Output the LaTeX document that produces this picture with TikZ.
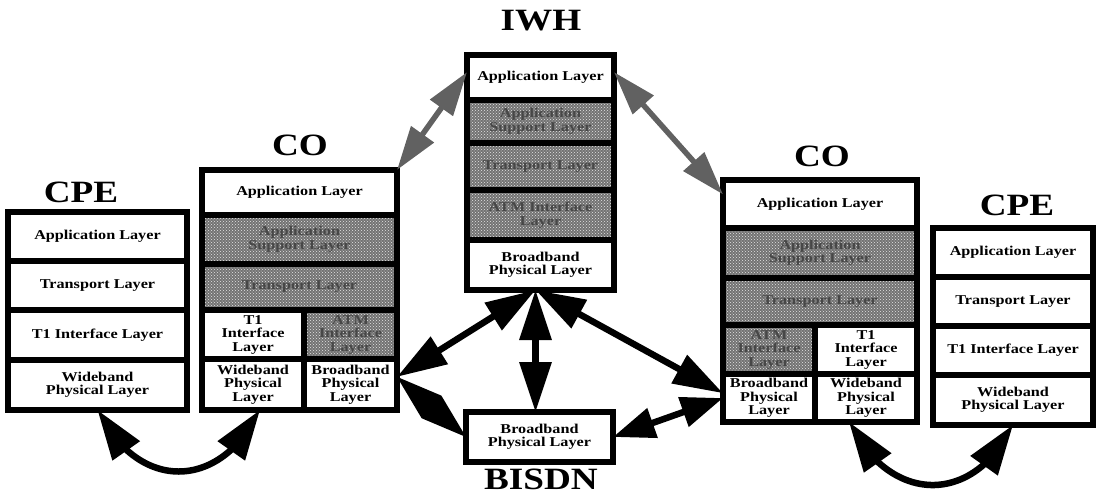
\documentclass[tikz,border=0pt]{standalone}
\usepackage{fontspec}
\setmainfont{Liberation Serif}[FakeStretch=1.2]
\usetikzlibrary{arrows.meta,patterns,calc,bending}

% a layer cell given by its corners (x1,y1) (x2,y2), y counted downwards
\newcommand\cell[7]{%
  \node[cell,#1,minimum width={(#5-#3)*1pt},minimum height={(#6-#4)*1pt}]
    (#2) at ({(#3+#5)/2},{(#4+#6)/2}) {#7};}

\tikzset{
  cell/.style={draw, line width=5.5pt, fill=white, inner sep=0pt, outer sep=0pt,
    align=center, font=\fontsize{13.5}{13.5}\selectfont\bfseries},
  shaded/.style={preaction={fill=black!55}, pattern=crosshatch dots,
    pattern color=black!10, text=black!72},
  head/.style={font=\fontsize{31}{31}\selectfont\bfseries, inner sep=0pt},
  bigarrow/.style={line width=6.5pt,
    {Triangle[length=50pt,width=31pt]}-{Triangle[length=50pt,width=31pt]}},
  shortarrow/.style={line width=6.5pt,
    {Triangle[length=42pt,width=30pt]}-{Triangle[length=42pt,width=30pt]}},
  grayarrow/.style={line width=5.5pt, draw=black!62,
    {Triangle[length=44pt,width=27pt]}-{Triangle[length=44pt,width=27pt]}},
  curvearrow/.style={line width=6.5pt,
    {Triangle[length=50pt,width=32pt]}-{Triangle[length=50pt,width=32pt]}},
}

\begin{document}
\begin{tikzpicture}[x=1pt,y=-1pt]
\useasboundingbox (0,0) rectangle (1097,496);

% --- customer premises, left
\cell{}{cpeLapp}{8}{212}{187}{261}{Application Layer}
\cell{}{cpeLtr}{8}{261}{187}{310}{Transport Layer}
\cell{}{cpeLt1}{8}{310}{187}{360}{T1 Interface Layer}
\cell{}{cpeLwb}{8}{360}{187}{410}{Wideband\\Physical Layer}
\node[head] (lblCPEl) at (81,192) {CPE};

% --- central office, left
\cell{}{coLapp}{202}{170}{397}{215}{Application Layer}
\cell{shaded}{coLsup}{202}{215}{397}{264}{Application\\Support Layer}
\cell{shaded}{coLtr}{202}{264}{397}{310}{Transport Layer}
\cell{}{coLt1}{202}{310}{304}{359}{T1\\Interface\\Layer}
\cell{shaded}{coLatm}{304}{310}{397}{359}{ATM\\Interface\\Layer}
\cell{}{coLwb}{202}{359}{304}{410}{Wideband\\Physical\\Layer}
\cell{}{coLbb}{304}{359}{397}{410}{Broadband\\Physical\\Layer}
\node[head] (lblCOl) at (300,145) {CO};

% --- interworking host
\cell{}{iwhApp}{467}{55}{614}{100}{Application Layer}
\cell{shaded}{iwhSup}{467}{100}{614}{143}{Application\\Support Layer}
\cell{shaded}{iwhTr}{467}{143}{614}{190}{Transport Layer}
\cell{shaded}{iwhAtm}{467}{190}{614}{240}{ATM Interface\\Layer}
\cell{}{iwhBB}{467}{240}{614}{290}{Broadband\\Physical Layer}
\node[head] (lblIWH) at (541,21) {IWH};

% --- central office, right
\cell{}{coRapp}{723}{180}{917}{228}{Application Layer}
\cell{shaded}{coRsup}{723}{228}{917}{278}{Application\\Support Layer}
\cell{shaded}{coRtr}{723}{278}{917}{325}{Transport Layer}
\cell{shaded}{coRatm}{723}{325}{815}{374}{ATM\\Interface\\Layer}
\cell{}{coRt1}{815}{325}{917}{374}{T1\\Interface\\Layer}
\cell{}{coRbb}{723}{374}{815}{422}{Broadband\\Physical\\Layer}
\cell{}{coRwb}{815}{374}{917}{422}{Wideband\\Physical\\Layer}
\node[head] (lblCOr) at (822,156) {CO};

% --- customer premises, right
\cell{}{cpeRapp}{933}{228}{1093}{277}{Application Layer}
\cell{}{cpeRtr}{933}{277}{1093}{326}{Transport Layer}
\cell{}{cpeRt1}{933}{326}{1093}{375}{T1 Interface Layer}
\cell{}{cpeRwb}{933}{375}{1093}{425}{Wideband\\Physical Layer}
\node[head] (lblCPEr) at (1017,205) {CPE};

% --- broadband network
\cell{}{bisdn}{466}{412}{613}{462}{Broadband\\Physical Layer}
\node[head] (lblBISDN) at (541,479) {BISDN};

% --- application-level exchanges with the interworking host
\draw[grayarrow] (coLapp.north east) -- ($(iwhApp.north west)!0.38!(iwhApp.south west)$);
\draw[grayarrow] ($(iwhApp.north east)!0.38!(iwhApp.south east)$) -- ($(coRapp.north west)!0.3!(coRapp.south west)$);

% --- broadband physical links
\coordinate (pL) at ($(coLbb.north east)!0.35!(coLbb.south east)$);
\coordinate (pR) at ($(coRbb.north west)!0.4!(coRbb.south west)$);
\coordinate (hub) at ($(iwhBB.south)+(-5,0)$);
\draw[bigarrow] (hub) -- (pL);
\draw[bigarrow] (hub) -- (hub |- bisdn.north);
\draw[bigarrow] (hub) -- (pR);
% two heads back to back, no shaft between them
\coordinate (km) at ($(pL)!0.5!(bisdn.west)$);
\fill (pL) -- ($(km)!15pt!90:(bisdn.west)$) -- (bisdn.west)
      -- ($(km)!15pt!-90:(bisdn.west)$) -- cycle;
\draw[shortarrow] (bisdn.east) -- (coRbb.west);

% --- wideband access links
\draw[curvearrow] (cpeLwb.south) .. controls +(40,82) and +(-40,82) .. ($(coLwb.south)+(7,0)$);
\draw[curvearrow] ($(coRwb.south)+(-17,0)$) .. controls +(40,82) and +(-40,82) .. (cpeRwb.south);
\end{tikzpicture}
\end{document}
